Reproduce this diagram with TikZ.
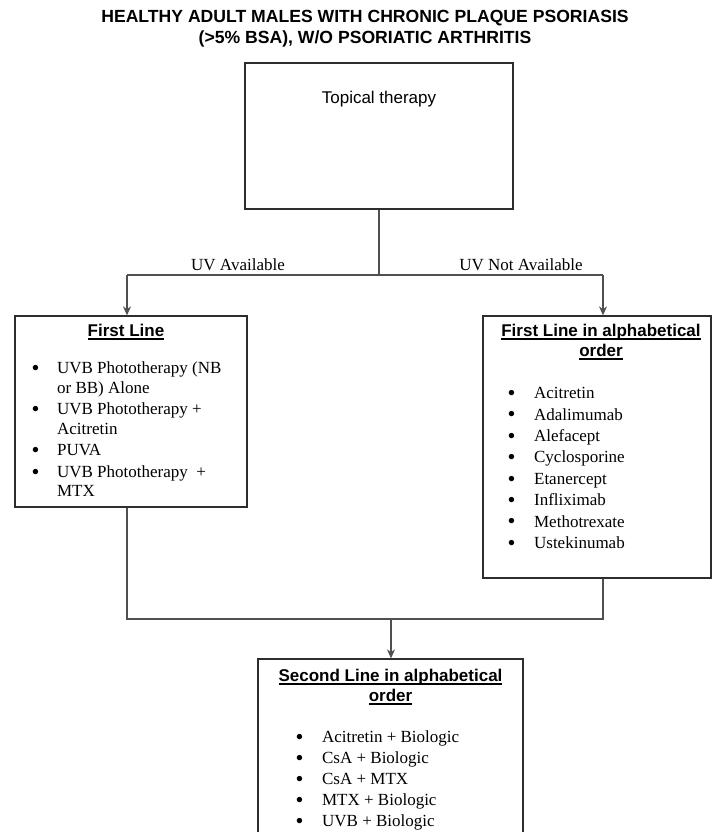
\documentclass[tikz,border=0pt]{standalone}
\usepackage{fontspec}
\setmainfont{Liberation Serif}
\setsansfont{Liberation Sans}
\usepackage{xcolor}
\usepackage{array}
\definecolor{boxgray}{RGB}{45,45,45}
\definecolor{linegray}{RGB}{80,80,80}
\usetikzlibrary{arrows.meta}
\tikzset{>={Stealth[length=9pt,width=8pt]}}
\newcommand{\thickul}[1]{\setbox0\hbox{#1}\rlap{\rule[-3.2pt]{\wd0}{1.7pt}}\box0}
\newcommand{\drugdot}{\raisebox{2.2pt}{\scalebox{0.8}{$\bullet$}}}
\tikzset{%
    box/.style={draw=boxgray, line width=1.3pt, inner sep=0pt},
    conn/.style={draw=linegray, line width=1.1pt},
    head/.style={font=\sffamily\bfseries\fontsize{17}{20}\selectfont, align=center, inner sep=0pt},
    lbl/.style={font=\fontsize{17}{20}\selectfont, inner sep=0pt},
    drugs/.style={anchor=north west, inner sep=0pt}
}

\begin{document}
\begin{tikzpicture}[x=1pt,y=1pt]
\useasboundingbox (0,0) rectangle (713,-832);

\node[font=\sffamily\bfseries\fontsize{17.6}{21}\selectfont, align=center, inner sep=0pt] (title) at (365,-29)
  {HEALTHY ADULT MALES WITH CHRONIC PLAQUE PSORIASIS\\(>5\% BSA), W/O PSORIATIC ARTHRITIS};

\node[box, minimum width=268pt, minimum height=146pt] (topical) at (379,-136) {};
\node[font=\sffamily\fontsize{17}{20}\selectfont, inner sep=0pt] (topicaltxt) at (379,-99) {Topical therapy};

\node[box, minimum width=232pt, minimum height=191pt] (first) at (131,-411.5) {};
\node[box, minimum width=228pt, minimum height=262pt] (alpha) at (597,-447) {};
\node[box, minimum width=265pt, minimum height=190pt] (second) at (390.5,-754) {};

\coordinate (uvl) at (127,-275);
\coordinate (uvr) at (603,-275);
\coordinate (joinl) at (127,-619);
\coordinate (joinr) at (603,-619);
\coordinate (joinm) at (391,-619);

\draw[conn] (topical.south) -- (topical.south |- uvl);
\draw[conn] (uvl) -- (uvr);
\draw[conn,->] (uvl) -- (uvl |- first.north);
\draw[conn,->] (uvr) -- (uvr |- alpha.north);
\draw[conn] (uvl |- first.south) -- (joinl) -- (joinr) -- (uvr |- alpha.south);
\draw[conn,->] (joinm) -- (joinm |- second.north);

\node[lbl] (uvyes) at (238,-265) {UV Available};
\node[lbl] (uvno) at (521,-265) {UV Not Available};

\node[head] (firsthd) at (126,-332) {\thickul{First Line}};
\node[head] (alphahd) at (601,-342) {\thickul{First Line in alphabetical}\\\thickul{order}};
\node[head] (secondhd) at (390.5,-687) {\thickul{Second Line in alphabetical}\\\thickul{order}};

\node[drugs] (firstlist) at (32,-360) {\fontsize{17}{19.5}\selectfont
  \begin{tabular}{@{}l@{\hspace{18pt}}l@{}}
  \drugdot & UVB Phototherapy (NB\\
  & or BB) Alone\\[2pt]
  \drugdot & UVB Phototherapy +\\
  & Acitretin\\[2pt]
  \drugdot & PUVA\\[2pt]
  \drugdot & UVB Phototherapy\ \ +\\
  & MTX
  \end{tabular}};

\node[drugs] (alphalist) at (508,-383.6) {\fontsize{17}{21.4}\selectfont
  \begin{tabular}{@{}l@{\hspace{19pt}}l@{}}
  \drugdot & Acitretin\\
  \drugdot & Adalimumab\\
  \drugdot & Alefacept\\
  \drugdot & Cyclosporine\\
  \drugdot & Etanercept\\
  \drugdot & Infliximab\\
  \drugdot & Methotrexate\\
  \drugdot & Ustekinumab
  \end{tabular}};

\node[drugs] (secondlist) at (296,-727.7) {\fontsize{17}{21}\selectfont
  \begin{tabular}{@{}l@{\hspace{19pt}}l@{}}
  \drugdot & Acitretin + Biologic\\
  \drugdot & CsA + Biologic\\
  \drugdot & CsA + MTX\\
  \drugdot & MTX + Biologic\\
  \drugdot & UVB + Biologic
  \end{tabular}};
\end{tikzpicture}
\end{document}
